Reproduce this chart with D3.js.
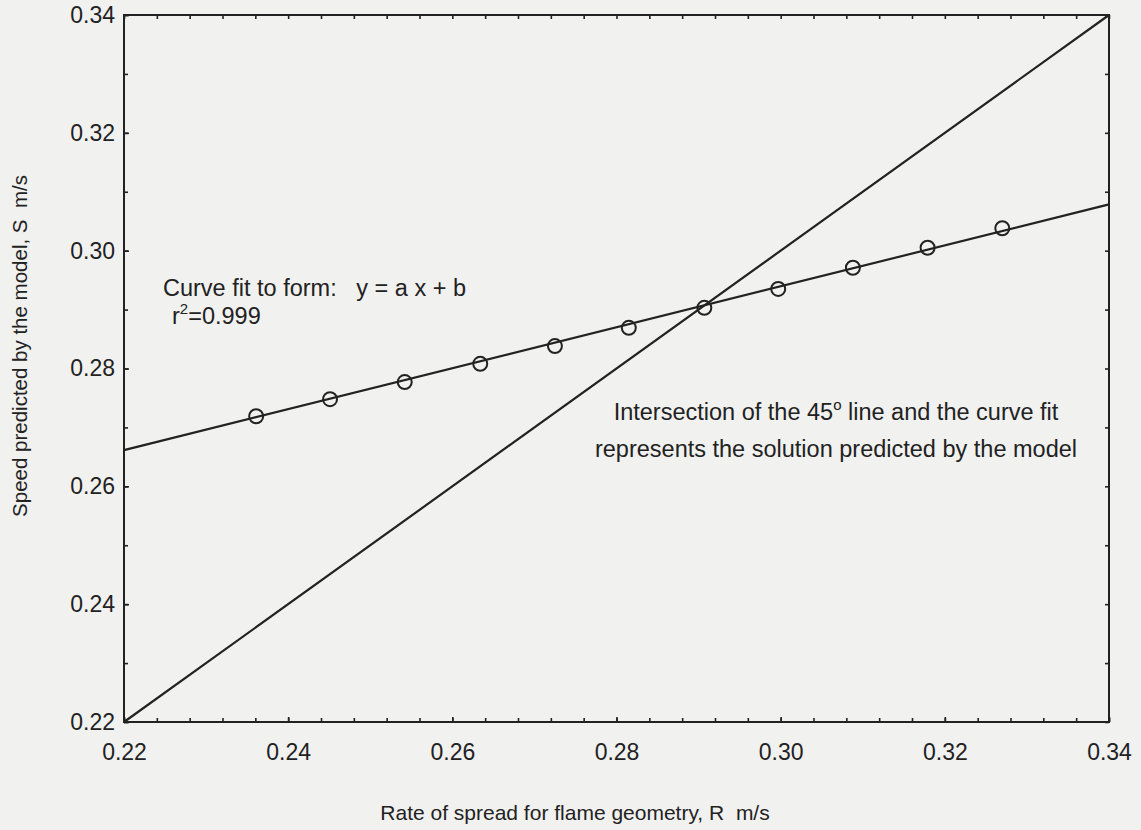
<!DOCTYPE html>
<html>
<head>
<meta charset="utf-8">
<script src="https://cdn.jsdelivr.net/npm/d3@7"></script>
<style>
  html, body { margin: 0; padding: 0; background: #f1f1f0; }
  svg { display: block; }
  text { font-family: "Liberation Sans", Arial, sans-serif; fill: #222; white-space: pre; }
</style>
</head>
<body>
<svg id="chart" width="1141" height="830"></svg>
<script>
// ---- data ----
const rateR = [0.2361, 0.2451, 0.2542, 0.2634, 0.2725, 0.2815, 0.2907, 0.2997, 0.3088, 0.3179, 0.3270];
const speedS = [0.2719, 0.2748, 0.2777, 0.2808, 0.2838, 0.2869, 0.2903, 0.2935, 0.2971, 0.3005, 0.3038];
const fitA = 0.3475;   // slope of the curve fit
const fitB = 0.1897;   // intercept of the curve fit
const diagonal = [0.22, 0.34];  // 45 degree line endpoints (y = x)
const xTicks = [0.22, 0.24, 0.26, 0.28, 0.30, 0.32, 0.34];
const yTicks = [0.22, 0.24, 0.26, 0.28, 0.30, 0.32, 0.34];
const xMinorTicks = d3.range(0, 31).map(i => +(0.22 + i * 0.004).toFixed(3));
const yMinorTicks = d3.range(0, 13).map(i => +(0.22 + i * 0.01).toFixed(2));

// ---- layout ----
const svg = d3.select("#chart");
const L = 124, R = 1109, T = 15, B = 722;
const ink = "#222";

const x = d3.scaleLinear().domain([0.22, 0.34]).range([L, R]);
const y = d3.scaleLinear().domain([0.22, 0.34]).range([B, T]);
const fmt = d3.format(".2f");

function styleAxis(g) {
  g.select(".domain").remove();
  g.selectAll(".tick line").attr("stroke", ink).attr("stroke-width", 1.6);
  g.selectAll(".tick text").attr("fill", ink).style("font-size", "23px")
    .style("font-family", '"Liberation Sans", Arial, sans-serif');
}

// minor ticks (all four sides, inward)
svg.append("g").attr("transform", `translate(0,${B})`)
  .call(d3.axisBottom(x).tickValues(xMinorTicks).tickFormat("").tickSize(-4)).call(styleAxis);
svg.append("g").attr("transform", `translate(0,${T})`)
  .call(d3.axisTop(x).tickValues(xMinorTicks).tickFormat("").tickSize(-4)).call(styleAxis);
svg.append("g").attr("transform", `translate(${L},0)`)
  .call(d3.axisLeft(y).tickValues(yMinorTicks).tickFormat("").tickSize(-4)).call(styleAxis);
svg.append("g").attr("transform", `translate(${R},0)`)
  .call(d3.axisRight(y).tickValues(yMinorTicks).tickFormat("").tickSize(-4)).call(styleAxis);

// major ticks with labels
svg.append("g").attr("transform", `translate(0,${B})`)
  .call(d3.axisBottom(x).tickValues(xTicks).tickFormat(fmt).tickSize(-5).tickPadding(22)).call(styleAxis);
svg.append("g").attr("transform", `translate(${L},0)`)
  .call(d3.axisLeft(y).tickValues(yTicks).tickFormat(fmt).tickSize(-5).tickPadding(9)).call(styleAxis);

// frame
svg.append("rect").attr("x", L).attr("y", T).attr("width", R - L).attr("height", B - T)
  .attr("fill", "none").attr("stroke", ink).attr("stroke-width", 2);

// 45 degree line
const line = d3.line().x(d => x(d[0])).y(d => y(d[1]));
svg.append("path").datum(diagonal.map(v => [v, v]))
  .attr("d", line).attr("fill", "none").attr("stroke", ink).attr("stroke-width", 2.2);

// curve fit line
svg.append("path").datum(x.domain().map(v => [v, fitA * v + fitB]))
  .attr("d", line).attr("fill", "none").attr("stroke", ink).attr("stroke-width", 2.2);

// data points
svg.append("g").selectAll("circle").data(rateR).join("circle")
  .attr("cx", d => x(d)).attr("cy", (d, i) => y(speedS[i])).attr("r", 7)
  .attr("fill", "none").attr("stroke", ink).attr("stroke-width", 2);

// annotations
const ann = svg.append("g").style("font-size", "23.5px");
ann.append("text").attr("x", 163).attr("y", 296).text("Curve fit to form:   y = a x + b");
const r2 = ann.append("text").attr("x", 172).attr("y", 324);
r2.append("tspan").text("r");
r2.append("tspan").attr("dy", -10).style("font-size", "15px").text("2");
r2.append("tspan").attr("dy", 10).text("=0.999");

const t1 = ann.append("text").attr("x", 836).attr("y", 420).attr("text-anchor", "middle");
t1.append("tspan").text("Intersection of the 45");
t1.append("tspan").attr("dy", -10).style("font-size", "15px").text("o");
t1.append("tspan").attr("dy", 10).text(" line and the curve fit");
ann.append("text").attr("x", 836).attr("y", 457).attr("text-anchor", "middle")
  .text("represents the solution predicted by the model");

// axis titles
svg.append("text").attr("x", 575).attr("y", 820).attr("text-anchor", "middle")
  .style("font-size", "21px").text("Rate of spread for flame geometry, R  m/s");
svg.append("text").attr("transform", "translate(27,346) rotate(-90)").attr("text-anchor", "middle")
  .style("font-size", "20.5px").text("Speed predicted by the model, S  m/s");
</script>
</body>
</html>
